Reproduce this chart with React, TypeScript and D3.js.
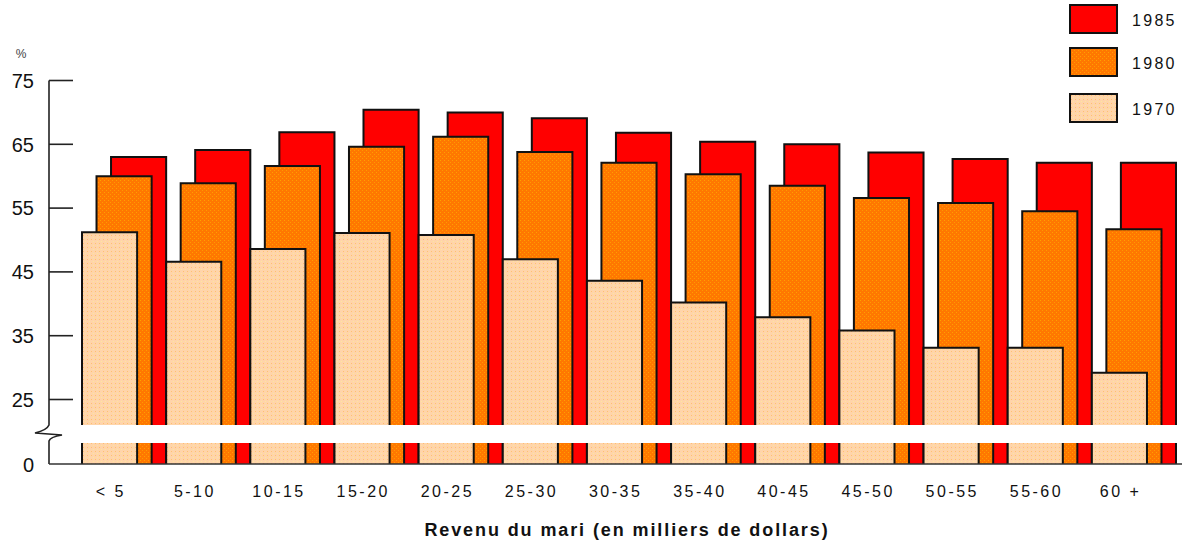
import React from "react";
import * as d3 from "d3";

const categories = ["< 5", "5-10", "10-15", "15-20", "20-25", "25-30", "30-35", "35-40", "40-45", "45-50", "50-55", "55-60", "60 +"];
const years = ["1985", "1980", "1970"];
const values1985 = [63, 64.1, 66.9, 70.4, 70.0, 69.1, 66.8, 65.4, 65.0, 63.7, 62.7, 62.1, 62.1];
const values1980 = [60, 58.9, 61.6, 64.6, 66.2, 63.8, 62.1, 60.3, 58.5, 56.6, 55.8, 54.5, 51.7];
const values1970 = [51.2, 46.6, 48.6, 51.1, 50.8, 47.0, 43.6, 40.2, 37.9, 35.8, 33.1, 33.1, 29.2];
const yTicks = [25, 35, 45, 55, 65, 75];
const xTitle = "Revenu du mari (en milliers de dollars)";

const colors: Record<string, string> = { "1985": "#ff0000", "1980": "#ff8000", "1970": "#ffd6a8" };

export default function App() {
  const W = 1196, H = 550;
  const x = d3.scaleBand<string>().domain(categories).range([82, 1176]).paddingInner(0).paddingOuter(0);
  const bw = x.bandwidth();
  const barW = bw * 0.655;
  const off = (bw - barW) / 2;
  const y = d3.scaleLinear().domain([25, 75]).range([399.5, 80.5]);
  const breakTop = 425, breakBot = 443, base = 464;
  const axisX = 49;

  const series = [
    { year: "1985", vals: values1985, idx: 2 },
    { year: "1980", vals: values1980, idx: 1 },
    { year: "1970", vals: values1970, idx: 0 },
  ];
  const font = "Arial, 'Liberation Sans', Helvetica, sans-serif";

  return (
    <div style={{ position: "absolute", left: 0, top: 0 }}>
      <svg width={W} height={H} style={{ display: "block", fontFamily: font }}>
        <defs>
          <pattern id="p1980" width="4" height="4" patternUnits="userSpaceOnUse">
            <rect width="4" height="4" fill="#ff7800" />
            <rect x="0" y="0" width="1" height="1" fill="#ffa000" />
            <rect x="2" y="2" width="1" height="1" fill="#ff9a00" />
          </pattern>
          <pattern id="p1970" width="4" height="4" patternUnits="userSpaceOnUse">
            <rect width="4" height="4" fill="#ffd4aa" />
            <rect x="1" y="1" width="1" height="1" fill="#ffe89a" />
            <rect x="3" y="3" width="1" height="1" fill="#ffc070" />
          </pattern>
        </defs>
        {/* bars */}
        {series.map((s) => (
          <g key={s.year}>
            {categories.map((c, i) => {
              const x0 = (x(c) as number) + s.idx * off;
              const top = y(s.vals[i]);
              const fill = s.year === "1985" ? colors["1985"] : `url(#p${s.year})`;
              return (
                <g key={c}>
                  <rect x={x0} y={top} width={barW} height={breakTop - top} fill={fill} />
                  <path d={`M${x0},${breakTop} V${top} H${x0 + barW} V${breakTop}`} fill="none" stroke="#111" strokeWidth={2} />
                  <rect x={x0} y={breakBot} width={barW} height={base - breakBot} fill={fill} />
                  <path d={`M${x0},${breakBot} V${base} M${x0 + barW},${breakBot} V${base}`} fill="none" stroke="#111" strokeWidth={2} />
                </g>
              );
            })}
          </g>
        ))}
        {/* axis */}
        <path
          d={`M${axisX},${y(75)} V${breakTop} Q${axisX - 2},${breakTop + 5} ${axisX - 14},${breakTop + 8} L${axisX + 13},${breakTop + 10} Q${axisX + 1},${breakTop + 12} ${axisX},${breakBot - 2} V${base}`}
          fill="none" stroke="#222" strokeWidth={1.6}
        />
        <line x1={axisX} x2={1182} y1={base} y2={base} stroke="#333" strokeWidth={1.5} />
        {yTicks.map((t) => (
          <g key={t}>
            <line x1={axisX} x2={axisX + 24} y1={y(t)} y2={y(t)} stroke="#222" strokeWidth={1.6} />
            <text x={34} y={y(t)} dy="0.36em" textAnchor="end" fontSize={20} fill="#111">{t}</text>
          </g>
        ))}
        <text x={34} y={base + 1} dy="0.36em" textAnchor="end" fontSize={20} fill="#111">0</text>
        <text x={21} y={58} textAnchor="middle" fontSize={12} fill="#444">%</text>
        {/* x labels, centred under the first bar of each group */}
        {categories.map((c) => (
          <text key={c} x={(x(c) as number) + barW / 2 + 1.2} y={497} textAnchor="middle" fontSize={16} letterSpacing={2.5} fill="#111">{c}</text>
        ))}
        <text x={627} y={536} textAnchor="middle" fontSize={18} fontWeight="bold" letterSpacing={1.9} fill="#111">{xTitle}</text>
        {/* legend */}
        {years.map((yr, i) => {
          const ly = [5, 48, 94][i];
          const fill = yr === "1985" ? colors["1985"] : `url(#p${yr})`;
          return (
            <g key={yr}>
              <rect x={1070} y={ly} width={47} height={28} fill={fill} stroke="#111" strokeWidth={2} />
              <text x={1132} y={ly + 15} dy="0.36em" fontSize={16} letterSpacing={2.3} fill="#111">{yr}</text>
            </g>
          );
        })}
      </svg>
    </div>
  );
}
